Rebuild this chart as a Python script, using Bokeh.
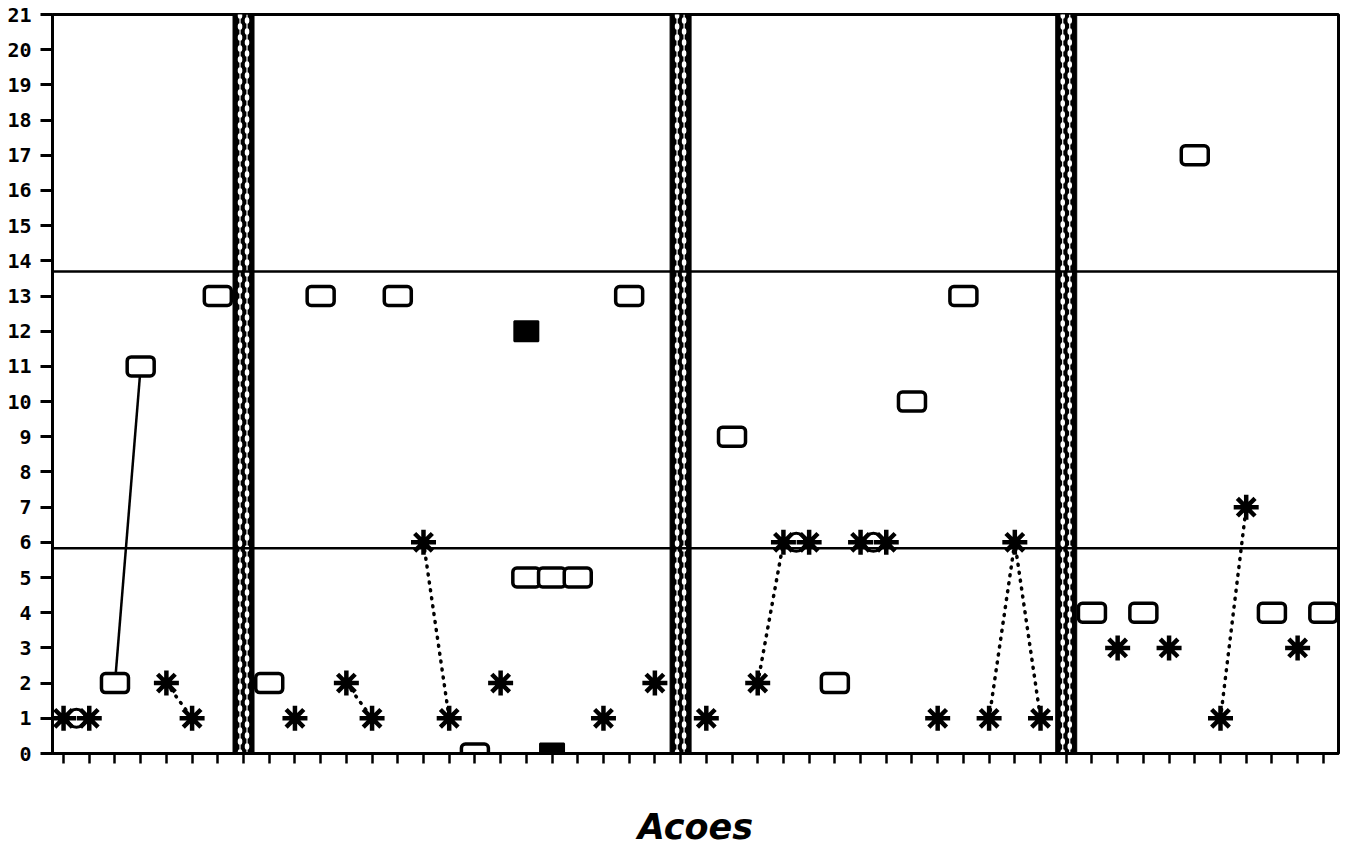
from bokeh.plotting import figure
from bokeh.models import Range1d, FixedTicker, Span
from bokeh.embed import file_html
from bokeh.resources import INLINE

# ---- data ----
y_ticks = list(range(0, 22))
x_ticks = list(range(1, 51))
phase_x = [8, 25, 40]
level_lines = [13.7, 5.83]

star_x = [1, 2, 5, 6, 10, 12, 13, 15, 16, 18, 22, 24, 26, 28, 29, 30, 32, 33, 35, 37, 38, 39, 42, 44, 46, 47, 49]
star_y = [1, 1, 2, 1, 1, 2, 1, 6, 1, 2, 1, 2, 1, 2, 6, 6, 6, 6, 1, 1, 6, 1, 3, 3, 1, 7, 3]
open_x = [3, 4, 7, 9, 11, 14, 17, 19, 20, 21, 23, 27, 31, 34, 36, 41, 43, 45, 48, 50]
open_y = [2, 11, 13, 2, 13, 13, 0, 5, 5, 5, 13, 9, 2, 10, 13, 4, 4, 17, 4, 4]
filled_x = [19, 20]
filled_y = [12, 0]
circle_x = [1.5, 29.5, 32.5]
circle_y = [1, 6, 6]
solid_paths_x = [[3, 4], [19, 21]]
solid_paths_y = [[2, 11], [5, 5]]
dotted_paths_x = [[5, 6], [12, 13], [15, 16], [28, 29], [37, 38, 39], [46, 47]]
dotted_paths_y = [[2, 1], [2, 1], [6, 1], [2, 6], [1, 6, 1], [1, 7]]

# ---- figure ----
p = figure(frame_width=1286, frame_height=739,
           x_range=Range1d(0.57, 50.59), y_range=Range1d(0, 21),
           output_backend="svg", toolbar_location=None,
           min_border_left=52, min_border_right=4, min_border_top=14,
           min_border_bottom=40)
p.background_fill_color = "white"
p.border_fill_color = "white"
p.outline_line_color = "black"
p.outline_line_width = 3
p.xgrid.visible = False
p.ygrid.visible = False

p.yaxis.ticker = FixedTicker(ticks=y_ticks)
p.yaxis.minor_tick_line_color = None
p.yaxis.major_tick_out = 12
p.yaxis.major_tick_in = 0
p.yaxis.major_tick_line_width = 3
p.yaxis.axis_line_width = 3
p.yaxis.major_label_text_font = "DejaVu Sans Mono"
p.yaxis.major_label_text_font_style = "bold"
p.yaxis.major_label_text_font_size = "20px"
p.yaxis.major_label_text_color = "black"
p.yaxis.major_label_standoff = 9

p.xaxis.ticker = FixedTicker(ticks=x_ticks)
p.xaxis.minor_tick_line_color = None
p.xaxis.major_tick_out = 10
p.xaxis.major_tick_in = 0
p.xaxis.major_tick_line_width = 2.5
p.xaxis.axis_line_width = 3
p.xaxis.major_label_overrides = {t: "" for t in x_ticks}
p.xaxis.major_label_text_font_size = "10px"
p.xaxis.major_label_standoff = 0
p.xaxis.axis_label = "Acoes"
p.xaxis.axis_label_text_font = "DejaVu Sans"
p.xaxis.axis_label_text_font_style = "bold italic"
p.xaxis.axis_label_text_font_size = "35px"
p.xaxis.axis_label_text_color = "black"
p.xaxis.axis_label_standoff = 43

# phase change bars
px_per_unit = 1286 / (50.59 - 0.57)
dx = 3.5 / px_per_unit
p.rect(x=phase_x, y=10.5, width=21, width_units="screen", height=21,
       fill_color="black", line_color="black")
for off, dash_off in ((-dx, 0), (dx, 5)):
    xs = [b + off for b in phase_x]
    p.segment(x0=xs, y0=0, x1=xs, y1=21, line_color="white", line_width=1.2)
    p.segment(x0=xs, y0=0, x1=xs, y1=21, line_color="white", line_width=4.5,
              line_dash="2 9", line_dash_offset=dash_off, line_cap="round")

# level reference lines
for lv in level_lines:
    p.add_layout(Span(location=lv, dimension="width", line_color="black", line_width=2.5))

# connecting lines
p.multi_line(xs=solid_paths_x, ys=solid_paths_y, line_color="black", line_width=2.5)
p.multi_line(xs=dotted_paths_x, ys=dotted_paths_y, line_color="black", line_width=3.5,
             line_dash="1 7", line_cap="round")

# markers
p.rect(x=open_x, y=open_y, width=27, height=19, width_units="screen", height_units="screen",
       fill_color="white", line_color="black", line_width=3.5, border_radius=4)
p.rect(x=filled_x, y=filled_y, width=24, height=20, width_units="screen", height_units="screen",
       fill_color="black", line_color="black", line_width=2)
p.scatter(x=circle_x, y=circle_y, marker="circle", size=18, fill_color="white",
          line_color="black", line_width=3)
p.scatter(x=star_x, y=star_y, marker="asterisk", size=25, line_color="black", line_width=4.5)

open("out.html", "w").write(file_html(p, INLINE))
